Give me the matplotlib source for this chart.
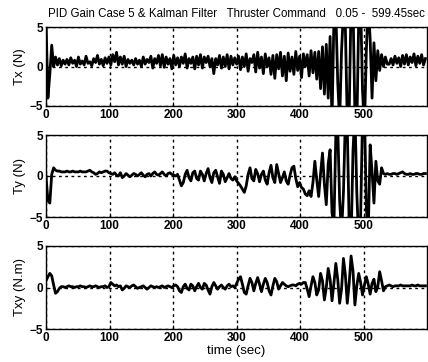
import numpy as np
import matplotlib
matplotlib.use("Agg")
import matplotlib.pyplot as plt

plt.rcParams['font.family'] = ['Liberation Sans', 'DejaVu Sans']

# time grid (s) for the sampled values below
t_step = 3.0
t_end = 599.45

tx_vals = [
    6, -4, -1, 2.7, 0, 1.2, 0.2, 1, 0.1, 0.8,
    0.3, 0.9, 0.2, 1.1, 0.4, 0.8, 0.0, 1.2, 0.3, 0.7,
    0.2, 1.3, 0.4, 0.6, 0.1, 1.0, 0.5, 1.4, 0.3, 0.9,
    0.1, 1.1, 0.4, 1.2, 0.2, 1.5, 0.6, 1.8, 0.2, 1.2,
    0.3, 1.3, 0.0, 0.9, 0.4, 0.8, 0.2, 1.0, 0.3, 0.8,
    0.0, 1.2, 0.3, 0.9, 0.5, 1.3, -0.2, 1.0, 0.4, 1.4,
    0.1, 1.5, -0.1, 1.2, 0.3, 1.0, -0.3, 1.4, 0.2, 1.1,
    0.0, 1.2, 0.4, 1.6, -0.2, 1.0, 0.4, 1.2, -0.3, 1.3,
    0.2, 1.5, -0.2, 1.2, 0.5, 1.3, 0.0, 1.0, -0.9, 1.0,
    0.2, 1.4, -0.2, 1.2, 0.0, 1.5, -0.3, 1.3, 0.2, 1.1,
    0.3, 1.3, -0.4, 1.2, 0.0, 1.6, -0.6, 1.0, 0.5, 1.5,
    -0.7, 1.8, -0.2, 1.2, -0.9, 1.6, 0.0, 1.1, -1.0, 1.4,
    -1.5, 1.5, -0.3, 1.8, -1.2, 1.3, -1.8, 1.7, -0.6, 1.2,
    -1.0, 1.9, -0.5, 1.3, -1.4, 1.6, 0.0, 1.5, -1.2, 2.0,
    -0.8, 1.8, -1.6, 1.9, -2.8, 2.5, -3.5, 2.8, -4.0, 3.8,
    -7, 6, 7, -2, -7, 2, 7, 5, -7, -6,
    8, 8, -6, -8, 6, 8, -3, -8, 2, 8,
    3.5, -4, 3, -1.8, 2.0, -0.5, 1.5, 0.0, 1.2, 0.3,
    0.3, 1.0, 0.2, 1.3, 0.4, 1.1, 0.0, 1.4, 0.3, 1.5,
    0.2, 1.2, 0.5, 1.6, 0.1, 1.3, 0.4, 1.5, 0.2, 1.0,
]

ty_vals = [
    0, -3.0, -3.3, 0.2, 1.0, 0.7, 0.6, 0.6, 0.5, 0.5,
    0.5, 0.6, 0.5, 0.5, 0.6, 0.5, 0.5, 0.5, 0.6, 0.5,
    0.5, 0.5, 0.6, 0.7, 0.5, 0.4, 0.2, 0.3, 0.5, 0.4,
    0.5, 0.6, 0.6, 0.4, 0.3, 0.2, 0.4, 0.1, 0.0, 0.4,
    -0.2, 0.0, 0.3, 0.1, -0.1, 0.1, 0.3, 0.2, 0.0, 0.2,
    0.4, 0.1, -0.1, 0.2, 0.3, 0.0, 0.3, 0.5, 0.2, 0.1,
    0.3, 0.5, 0.2, 0.0, 0.3, 0.4, 0.2, 0.1, 0.0, 0.2,
    -0.5, -1.2, -0.8, 0.2, 0.7, -0.2, -0.6, 0.4, 0.6, -0.3,
    -0.5, 0.6, 0.2, -0.6, 0.3, 0.9, -0.2, -0.8, 0.4, 0.7,
    -0.1, -0.9, 0.6, 0.2, -0.7, -0.2, 0.3, -0.3, -0.5, -0.1,
    -0.6, -0.9, -1.2, -1.6, -2.0, -1.2, 0.2, 1.0, -0.3, -0.6,
    0.8, 0.3, -0.7, 0.2, 0.6, -0.5, -1.0, 0.4, 1.3, -0.2,
    -0.8, 1.4, 0.3, -0.8, -0.2, 0.5, -0.6, -1.0, 0.1, 1.0,
    1.2, -0.3, -1.3, -0.8, -1.4, -1.6, -2.2, -2.4, -1.8, -2.5,
    -0.8, 1.8, -0.5, -2.5, 0.3, 2.8, -1.0, -3.5, 1.5, 3.2,
    -4.5, -6, 5, 6, -3, -7, -2, 7, 6, -6,
    -8, 3, 8, -2, -8, -5, 7, 8, -4, -7,
    3.8, 0.5, -3.3, 1.8, -0.6, -1.0, 1.0, 0.3, 0.2, 0.3,
    0.2, 0.2, 0.3, 0.3, 0.2, 0.3, 0.4, 0.5, 0.3, 0.2,
    0.2, 0.3, 0.2, 0.2, 0.3, 0.3, 0.2, 0.2, 0.3, 0.3,
]

txy_vals = [
    0.8, 1.3, 1.7, 1.4, 0.3, -0.7, -0.5, -0.1, 0.1, 0.1,
    0.0, 0.1, 0.2, 0.1, 0.1, 0.0, 0.1, 0.1, 0.2, 0.1,
    0.1, 0.0, 0.1, 0.2, 0.1, 0.1, 0.2, 0.1, 0.0, 0.1,
    0.1, 0.2, 0.0, 0.1, 0.6, 0.4, 0.2, 0.3, 0.1, 0.2,
    -0.3, -0.1, 0.2, 0.1, 0.0, 0.2, 0.3, 0.1, -0.1, 0.0,
    0.1, 0.2, 0.0, -0.2, 0.0, 0.2, 0.1, 0.0, 0.1, 0.0,
    0.1, 0.2, 0.0, 0.1, 0.2, 0.1, 0.0, 0.2, 0.3, 0.1,
    -0.4, -0.6, 0.1, 0.4, -0.1, -0.3, 0.4, 0.2, -0.4, 0.1,
    0.5, 0.0, -0.2, 0.5, 0.3, -0.3, -0.8, 0.1, 0.6, 0.2,
    -0.2, 0.1, 0.3, 0.0, -0.2, 0.2, 0.4, 0.1, 0.2, 0.0,
    0.5, 1.0, 1.3, 0.4, -0.6, -0.8, 0.2, 1.1, 0.6, -0.4,
    0.5, 1.2, 0.4, -0.5, 0.4, 1.1, 0.6, -0.4, -0.9, 0.2,
    1.1, 0.7, -0.2, 0.2, 0.6, 0.4, 0.2, 0.1, 0.2, 0.3,
    0.3, 0.2, 0.4, 0.5, 0.4, 0.6, 0.6, -0.2, -1.1, 0.2,
    1.3, 0.6, -0.9, -0.3, 1.7, 0.8, -1.5, 0.0, 2.3, 1.0,
    -1.6, 0.5, 2.9, 1.0, -1.9, -0.2, 3.5, 1.5, -1.9, 0.5,
    3.8, 2.0, -2.1, 0.2, 1.7, 0.6, -0.9, 0.3, 1.3, 0.4,
    -0.8, 0.5, 1.0, -0.5, 0.1, 1.9, 0.8, -0.4, 0.1, 0.2,
    0.3, 0.2, 0.1, 0.2, 0.2, 0.2, 0.3, 0.2, 0.2, 0.2,
    0.2, 0.2, 0.3, 0.2, 0.2, 0.3, 0.2, 0.2, 0.2, 0.2,
]

ylabels = ["Tx (N)", "Ty (N)", "Txy (N.m)"]
x_ticks = [0, 100, 200, 300, 400, 500]
y_ticks = [-5, 0, 5]
title = "PID Gain Case 5 & Kalman Filter   Thruster Command   0.05 -  599.45sec"
xlabel = "time (sec)"

series = [tx_vals, ty_vals, txy_vals]

fig = plt.figure(figsize=(4.28, 3.62), dpi=100)
fig.patch.set_facecolor("white")

left, width = 46 / 428, 381 / 428
tops = [27, 135, 246]
bottoms = [106, 217, 329]

for i, vals in enumerate(series):
    y0 = 1 - bottoms[i] / 362
    h = (bottoms[i] - tops[i]) / 362
    ax = fig.add_axes([left, y0, width, h])
    t = np.arange(len(vals)) * t_step
    ax.plot(t, vals, color="black", lw=2.0, solid_joinstyle="round")
    ax.set_xlim(0, t_end)
    ax.set_ylim(-5, 5)
    ax.set_xticks(x_ticks)
    ax.set_yticks(y_ticks)
    ax.grid(True, color="black", linestyle=(0, (2.0, 2.5)), linewidth=1.0)
    ax.tick_params(direction="in", length=3, width=0.8, labelsize=8.5, pad=2)
    for lab in ax.get_xticklabels() + ax.get_yticklabels():
        lab.set_fontweight("bold")
    for s in ax.spines.values():
        s.set_linewidth(1.0)
        s.set_color("black")
    ax.set_ylabel(ylabels[i], fontsize=9.5, labelpad=3)
    if i == 0:
        ax.set_title(title, fontsize=8.3, pad=7)
    if i == 2:
        ax.set_xlabel(xlabel, fontsize=9.5, labelpad=1)

fig.savefig("out.png", dpi=100)
